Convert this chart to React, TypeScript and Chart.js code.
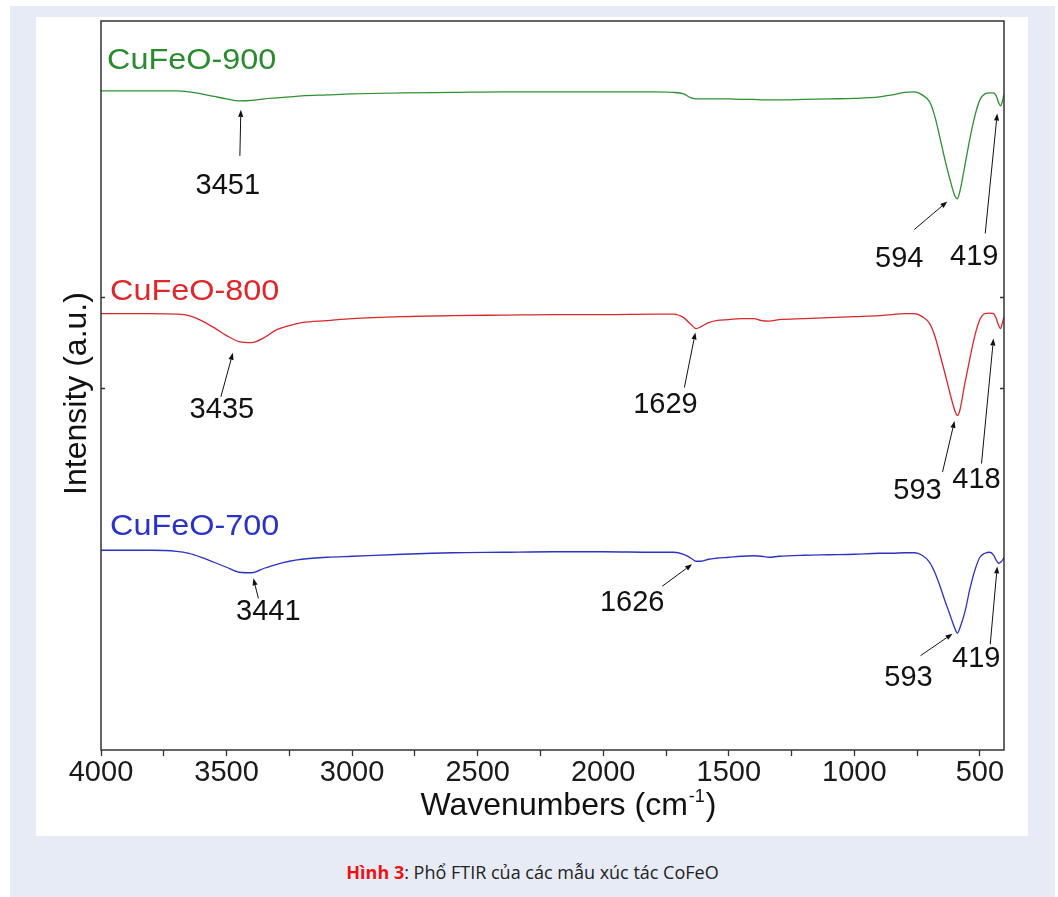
import React, { useEffect, useRef } from 'react';
import { Chart, registerables } from 'chart.js';

Chart.register(...registerables);

// ---------- DATA ----------
const wavenumbers = [
  4000, 3800, 3700, 3650, 3600, 3550, 3500, 3450, 3400, 3350, 3300, 3250, 3200, 3100, 3000,
  2800, 2600, 2400, 2200, 2000, 1800, 1720, 1680, 1650, 1630, 1610, 1580, 1550, 1500, 1450,
  1400, 1370, 1340, 1300, 1200, 1100, 1000, 900, 850, 800, 760, 730, 700, 680, 660, 640, 620,
  600, 590, 580, 560, 540, 520, 500, 480, 460, 445, 435, 425, 418, 410, 404,
];

const cufeo900 = [
  66.0, 66.0, 66.0, 65.9, 65.7, 65.45, 65.2, 65.0, 65.05, 65.2, 65.3, 65.4, 65.5, 65.6, 65.7,
  65.8, 65.85, 65.9, 65.9, 65.9, 65.9, 65.85, 65.7, 65.3, 65.2, 65.2, 65.2, 65.2, 65.2, 65.15,
  65.15, 65.1, 65.1, 65.1, 65.15, 65.2, 65.25, 65.4, 65.6, 65.85, 65.9, 65.6, 64.9, 63.5, 61.4, 59.2, 57.2,
  55.5, 55.2, 55.9, 58.5, 61.2, 63.5, 65.1, 65.7, 65.8, 65.8, 65.5, 64.8, 64.5, 65.0, 65.7,
];

const cufeo800 = [
  43.7, 43.7, 43.65, 43.5, 43.0, 42.3, 41.5, 40.9, 40.8, 41.3, 42.1, 42.5, 42.8, 43.0, 43.2,
  43.4, 43.5, 43.55, 43.6, 43.6, 43.65, 43.65, 43.3, 42.6, 42.2, 42.4, 42.8, 43.0, 43.1, 43.2,
  43.2, 43.0, 42.95, 43.1, 43.2, 43.3, 43.4, 43.5, 43.6, 43.7, 43.7, 43.4, 42.7, 41.5, 39.7, 37.8, 35.8,
  34.0, 33.5, 34.0, 36.7, 39.2, 41.5, 43.1, 43.7, 43.75, 43.7, 43.2, 42.5, 42.2, 42.8, 43.4,
];

const cufeo700 = [
  20.0, 20.0, 19.9, 19.7, 19.3, 18.8, 18.3, 17.8, 17.75, 18.2, 18.6, 18.9, 19.1, 19.3, 19.4,
  19.6, 19.75, 19.8, 19.85, 19.85, 19.8, 19.8, 19.6, 19.2, 18.9, 18.9, 19.1, 19.2, 19.3, 19.4,
  19.45, 19.4, 19.3, 19.4, 19.5, 19.55, 19.6, 19.7, 19.7, 19.75, 19.75, 19.5, 18.8, 17.8, 16.5, 15.0, 13.6,
  12.2, 11.7, 12.2, 13.8, 16.1, 18.0, 19.3, 19.7, 19.8, 19.5, 19.0, 18.7, 18.8, 19.0, 19.3,
];

const seriesNames = ['CuFeO-900', 'CuFeO-800', 'CuFeO-700'];
const seriesValues = [cufeo900, cufeo800, cufeo700];

const xTickValues = [4000, 3750, 3500, 3250, 3000, 2750, 2500, 2250, 2000, 1750, 1500, 1250, 1000, 750, 500];
const xLabelStep = 500;
const xMin = 404;
const xMax = 4000;
const yMin = 0;
const yMax = 73;
const yTickMarks = [45.3, 36.2];

const peakSeries = [0, 0, 0, 1, 1, 1, 1, 2, 2, 2, 2];
const peakWavenumbers = [3451, 594, 419, 3435, 1629, 593, 418, 3441, 1626, 593, 419];
const peakLabels = ['3451', '594', '419', '3435', '1629', '593', '418', '3441', '1626', '593', '419'];

// ---------- STYLE / LAYOUT ----------
const lineColors = ['#2f8f34', '#d8282c', '#2b33c0'];
const labelColors = ['#2a8a2e', '#e0262a', '#2a32c8'];
const FONT = '"Liberation Sans", Arial, sans-serif';

// offsets in px relative to peak pixel: arrow head, arrow tail, text centre
const peakLayout = [
  { head: [2, 9], tail: [1, 55], text: [-11, 85] },
  { head: [-9, 4], tail: [-42, 32], text: [-57, 61] },
  { head: [-3, 8], tail: [-15, 128], text: [-26, 152] },
  { head: [-10, 11], tail: [-22, 55], text: [-21, 68] },
  { head: [-1, 4], tail: [-12, 59], text: [-31, 77] },
  { head: [-2, 7], tail: [-14, 58], text: [-39, 77] },
  { head: [-7, 10], tail: [-19, 135], text: [-24, 151] },
  { head: [12, 6], tail: [17, 26], text: [27, 40] },
  { head: [-5, 3], tail: [-35, 25], text: [-65, 42] },
  { head: [-4, 2], tail: [-36, 24], text: [-48, 46] },
  { head: [-3, 4], tail: [-10, 82], text: [-24, 97] },
];

const seriesLabelOffset = [
  { dx: 6, dy: -22 },
  { dx: 9, dy: -14 },
  { dx: 9, dy: -15 },
];

function valueAt(vals: number[], wn: number): number {
  for (let i = 0; i < wavenumbers.length - 1; i++) {
    const a = wavenumbers[i];
    const b = wavenumbers[i + 1];
    if (wn <= a && wn >= b) {
      const t = (a - wn) / (a - b);
      return vals[i] + (vals[i + 1] - vals[i]) * t;
    }
  }
  return vals[vals.length - 1];
}

function drawArrow(ctx: CanvasRenderingContext2D, x1: number, y1: number, x2: number, y2: number) {
  ctx.save();
  ctx.strokeStyle = '#111';
  ctx.fillStyle = '#111';
  ctx.lineWidth = 1;
  const ang = Math.atan2(y2 - y1, x2 - x1);
  const len = 7;
  const hw = 2.6;
  const bx = x2 - Math.cos(ang) * len;
  const by = y2 - Math.sin(ang) * len;
  ctx.beginPath();
  ctx.moveTo(x1, y1);
  ctx.lineTo(bx, by);
  ctx.stroke();
  ctx.beginPath();
  ctx.moveTo(x2, y2);
  ctx.lineTo(bx + Math.sin(ang) * hw, by - Math.cos(ang) * hw);
  ctx.lineTo(bx - Math.sin(ang) * hw, by + Math.cos(ang) * hw);
  ctx.closePath();
  ctx.fill();
  ctx.restore();
}

const overlayPlugin = {
  id: 'overlay',
  afterDatasetsDraw(chart: any) {
    const { ctx, chartArea: ca, scales } = chart;
    const xs = scales.x;
    const ys = scales.y;

    // frame
    ctx.save();
    ctx.strokeStyle = '#333';
    ctx.lineWidth = 1.5;
    ctx.strokeRect(ca.left, ca.top, ca.right - ca.left, ca.bottom - ca.top);
    // y tick marks (inward)
    yTickMarks.forEach((v) => {
      const py = ys.getPixelForValue(v);
      ctx.beginPath();
      ctx.moveTo(ca.left, py);
      ctx.lineTo(ca.left + 4, py);
      ctx.moveTo(ca.right, py);
      ctx.lineTo(ca.right - 4, py);
      ctx.stroke();
    });
    ctx.restore();

    // series labels
    seriesNames.forEach((name, i) => {
      const py = ys.getPixelForValue(seriesValues[i][0]);
      ctx.save();
      ctx.translate(ca.left + seriesLabelOffset[i].dx, py + seriesLabelOffset[i].dy);
      ctx.scale(1.08, 1);
      ctx.font = `30px ${FONT}`;
      ctx.fillStyle = labelColors[i];
      ctx.textAlign = 'left';
      ctx.textBaseline = 'alphabetic';
      ctx.fillText(name, 0, 0);
      ctx.restore();
    });

    // peak annotations
    peakWavenumbers.forEach((wn, k) => {
      const s = peakSeries[k];
      const px = xs.getPixelForValue(wn);
      const py = ys.getPixelForValue(valueAt(seriesValues[s], wn));
      const L = peakLayout[k];
      drawArrow(ctx, px + L.tail[0], py + L.tail[1], px + L.head[0], py + L.head[1]);
      ctx.save();
      ctx.font = `29px ${FONT}`;
      ctx.fillStyle = '#111';
      ctx.textAlign = 'center';
      ctx.textBaseline = 'middle';
      ctx.fillText(peakLabels[k], px + L.text[0], py + L.text[1]);
      ctx.restore();
    });

    // y title
    ctx.save();
    ctx.translate(ca.left - 24, (ca.top + ca.bottom) / 2 + 8);
    ctx.rotate(-Math.PI / 2);
    ctx.font = `32px ${FONT}`;
    ctx.fillStyle = '#111';
    ctx.textAlign = 'center';
    ctx.textBaseline = 'middle';
    ctx.fillText('Intensity (a.u.)', 0, 0);
    ctx.restore();

    // x title with superscript
    ctx.save();
    const main = 'Wavenumbers (cm';
    const sup = '-1';
    const close = ')';
    ctx.font = `32px ${FONT}`;
    const w1 = ctx.measureText(main).width;
    const w3 = ctx.measureText(close).width;
    ctx.font = `18px ${FONT}`;
    const w2 = ctx.measureText(sup).width;
    const total = w1 + w2 + 2 + w3;
    const cx = (ca.left + ca.right) / 2 + 16;
    const baseY = ca.bottom + 65;
    const x0 = cx - total / 2;
    ctx.fillStyle = '#111';
    ctx.textAlign = 'left';
    ctx.textBaseline = 'alphabetic';
    ctx.font = `32px ${FONT}`;
    ctx.fillText(main, x0, baseY);
    ctx.font = `18px ${FONT}`;
    ctx.fillText(sup, x0 + w1 + 1, baseY - 13);
    ctx.font = `32px ${FONT}`;
    ctx.fillText(close, x0 + w1 + w2 + 2, baseY);
    ctx.restore();
  },
};

export default function App() {
  const canvasRef = useRef<HTMLCanvasElement | null>(null);

  useEffect(() => {
    document.body.style.margin = '0';
    const canvas = canvasRef.current;
    if (!canvas) return;
    const chart = new Chart(canvas, {
      type: 'line',
      data: {
        datasets: seriesValues.map((vals, i) => ({
          label: seriesNames[i],
          data: wavenumbers.map((w, j) => ({ x: w, y: vals[j] })),
          borderColor: lineColors[i],
          backgroundColor: lineColors[i],
          borderWidth: 1.3,
          pointRadius: 0,
          fill: false,
          cubicInterpolationMode: 'monotone' as const,
        })),
      },
      options: {
        animation: false,
        responsive: false,
        maintainAspectRatio: false,
        devicePixelRatio: 1,
        layout: { padding: { top: 4, right: 24, left: 0, bottom: 0 } },
        plugins: {
          legend: { display: false },
          tooltip: { enabled: false },
          title: { display: false },
        },
        scales: {
          x: {
            type: 'linear',
            reverse: true,
            min: xMin,
            max: xMax,
            afterBuildTicks: (s: any) => {
              s.ticks = xTickValues.map((v) => ({ value: v }));
            },
            afterFit: (s: any) => {
              s.height = 86;
            },
            ticks: {
              autoSkip: false,
              maxRotation: 0,
              minRotation: 0,
              padding: 0,
              color: '#1a1a1a',
              font: { family: FONT, size: 29 },
              callback: (v: any) => (Number(v) % xLabelStep === 0 ? String(v) : ''),
            },
            grid: {
              drawOnChartArea: false,
              drawTicks: true,
              tickLength: 6,
              color: '#333',
              tickWidth: 1.3,
            },
            border: { display: false },
          },
          y: {
            type: 'linear',
            min: yMin,
            max: yMax,
            ticks: { display: false },
            grid: { display: false },
            border: { display: false },
            afterFit: (s: any) => {
              s.width = 65;
            },
          },
        },
      },
      plugins: [overlayPlugin],
    } as any);
    return () => chart.destroy();
  }, []);

  return (
    <div style={{ position: 'relative', width: 1058, height: 897, background: '#ffffff', overflow: 'hidden' }}>
      <div style={{ position: 'absolute', left: 10, top: 6, width: 1045, height: 891, background: '#e7ebf6' }} />
      <div style={{ position: 'absolute', left: 36, top: 17, width: 992, height: 819, background: '#ffffff' }}>
        <canvas ref={canvasRef} width={992} height={819} style={{ display: 'block', width: 992, height: 819 }} />
      </div>
      <div
        style={{
          position: 'absolute',
          left: 10,
          width: 1045,
          top: 860,
          textAlign: 'center',
          fontFamily: '"Open Sans", "Noto Sans", sans-serif',
          fontSize: 18,
          color: '#222',
          whiteSpace: 'nowrap',
        }}
      >
        <span style={{ color: '#ee1111', fontWeight: 700 }}>Hình 3</span>: Phổ FTIR của các mẫu xúc tác CoFeO
      </div>
    </div>
  );
}
